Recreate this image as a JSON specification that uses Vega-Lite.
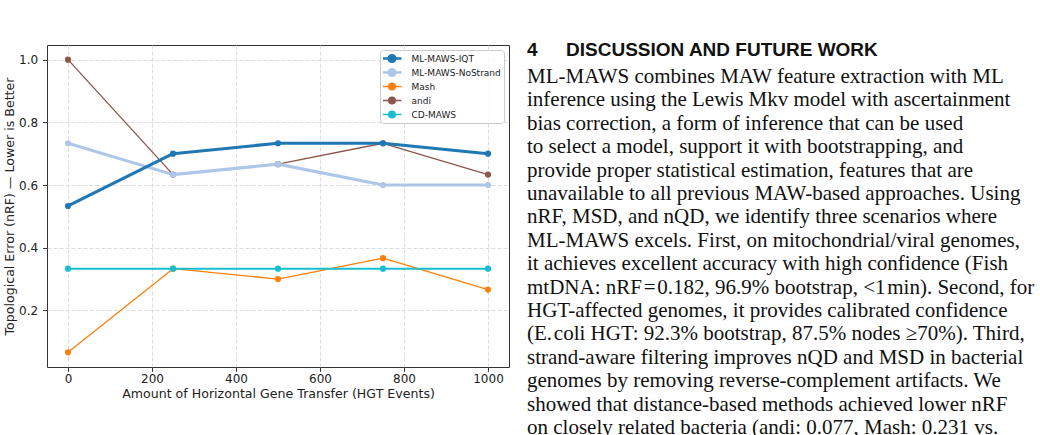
{
  "$schema": "https://vega.github.io/schema/vega-lite/v6.json",
  "autosize": {"type": "none"},
  "width": 462,
  "height": 322,
  "padding": {"left": 47, "top": 45, "right": 531, "bottom": 68},
  "background": "white",
  "datasets": {
    "nrf": [
      {"method": "Mash", "hgt": 0, "nrf": 0.0667},
      {"method": "Mash", "hgt": 250, "nrf": 0.3333},
      {"method": "Mash", "hgt": 500, "nrf": 0.3},
      {"method": "Mash", "hgt": 750, "nrf": 0.3667},
      {"method": "Mash", "hgt": 1000, "nrf": 0.2667},
      {"method": "andi", "hgt": 0, "nrf": 1.0},
      {"method": "andi", "hgt": 250, "nrf": 0.6333},
      {"method": "andi", "hgt": 500, "nrf": 0.6667},
      {"method": "andi", "hgt": 750, "nrf": 0.7333},
      {"method": "andi", "hgt": 1000, "nrf": 0.6333},
      {"method": "CD-MAWS", "hgt": 0, "nrf": 0.3333},
      {"method": "CD-MAWS", "hgt": 250, "nrf": 0.3333},
      {"method": "CD-MAWS", "hgt": 500, "nrf": 0.3333},
      {"method": "CD-MAWS", "hgt": 750, "nrf": 0.3333},
      {"method": "CD-MAWS", "hgt": 1000, "nrf": 0.3333},
      {"method": "ML-MAWS-NoStrand", "hgt": 0, "nrf": 0.7333},
      {"method": "ML-MAWS-NoStrand", "hgt": 250, "nrf": 0.6333},
      {"method": "ML-MAWS-NoStrand", "hgt": 500, "nrf": 0.6667},
      {"method": "ML-MAWS-NoStrand", "hgt": 750, "nrf": 0.6},
      {"method": "ML-MAWS-NoStrand", "hgt": 1000, "nrf": 0.6},
      {"method": "ML-MAWS-IQT", "hgt": 0, "nrf": 0.5333},
      {"method": "ML-MAWS-IQT", "hgt": 250, "nrf": 0.7},
      {"method": "ML-MAWS-IQT", "hgt": 500, "nrf": 0.7333},
      {"method": "ML-MAWS-IQT", "hgt": 750, "nrf": 0.7333},
      {"method": "ML-MAWS-IQT", "hgt": 1000, "nrf": 0.7}
    ],
    "heading": [
      {"line": 0, "text": "4\u2003\u2002DISCUSSION AND FUTURE WORK"}
    ],
    "body": [
      {"line": 1, "text": "ML-MAWS combines MAW feature extraction with ML"},
      {"line": 2, "text": "inference using the Lewis Mkv model with ascertainment"},
      {"line": 3, "text": "bias correction, a form of inference that can be used"},
      {"line": 4, "text": "to select a model, support it with bootstrapping, and"},
      {"line": 5, "text": "provide proper statistical estimation, features that are"},
      {"line": 6, "text": "unavailable to all previous MAW-based approaches. Using"},
      {"line": 7, "text": "nRF, MSD, and nQD, we identify three scenarios where"},
      {"line": 8, "text": "ML-MAWS excels. First, on mitochondrial/viral genomes,"},
      {"line": 9, "text": "it achieves excellent accuracy with high confidence (Fish"},
      {"line": 10, "text": "mtDNA: nRF\u200a=\u200a0.182, 96.9% bootstrap, <1\u200amin). Second, for"},
      {"line": 11, "text": "HGT-affected genomes, it provides calibrated confidence"},
      {"line": 12, "text": "(E.\u200acoli HGT: 92.3% bootstrap, 87.5% nodes \u226570%). Third,"},
      {"line": 13, "text": "strand-aware filtering improves nQD and MSD in bacterial"},
      {"line": 14, "text": "genomes by removing reverse-complement artifacts. We"},
      {"line": 15, "text": "showed that distance-based methods achieved lower nRF"},
      {"line": 16, "text": "on closely related bacteria (andi: 0.077, Mash: 0.231 vs."}
    ]
  },
  "layer": [
    {
      "data": {"name": "nrf"},
      "encoding": {
        "x": {
          "field": "hgt",
          "type": "quantitative",
          "scale": {"domain": [-50, 1050], "nice": false, "zero": false},
          "axis": {
            "values": [0, 200, 400, 600, 800, 1000],
            "format": "d",
            "title": "Amount of Horizontal Gene Transfer (HGT Events)",
            "labelPadding": 2,
            "titlePadding": 3
          }
        },
        "y": {
          "field": "nrf",
          "type": "quantitative",
          "scale": {"domain": [0.0197, 1.0467], "nice": false, "zero": false},
          "axis": {
            "values": [0.2, 0.4, 0.6, 0.8, 1.0],
            "format": ".1f",
            "title": "Topological Error (nRF) \u2014 Lower is Better",
            "labelPadding": 5,
            "titlePadding": 2
          }
        },
        "color": {
          "field": "method",
          "type": "nominal",
          "scale": {
            "domain": ["ML-MAWS-IQT", "ML-MAWS-NoStrand", "Mash", "andi", "CD-MAWS"],
            "range": ["#1f77b4", "#aec7e8", "#ff7f0e", "#8c564b", "#17becf"]
          },
          "legend": {
            "title": null,
            "orient": "top-right",
            "offset": 5,
            "padding": 3,
            "fillColor": "rgba(255,255,255,0.85)",
            "strokeColor": "#cccccc",
            "cornerRadius": 3,
            "labelFont": "DejaVu Sans",
            "labelFontSize": 9,
            "labelColor": "#222222",
            "labelOffset": 15,
            "rowPadding": 3,
            "clipHeight": 11,
            "symbolOffset": 4.5,
            "symbolType": "M-1.9,0H1.9M-0.66,0A0.66,0.66,0,1,1,0.66,0A0.66,0.66,0,1,1,-0.66,0Z",
            "symbolSize": 100,
            "encode": {
              "symbols": {
                "update": {
                  "fill": {"scale": "color", "field": "value"},
                  "stroke": {"scale": "color", "field": "value"},
                  "strokeWidth": {"signal": "indexof(['ML-MAWS-IQT', 'ML-MAWS-NoStrand'], datum.value) >= 0 ? 2.6 : 1.3"},
                  "opacity": {"value": 1}
                }
              }
            }
          }
        }
      },
      "layer": [
        {
          "transform": [{"filter": {"field": "method", "oneOf": ["Mash", "andi"]}}],
          "mark": {"type": "line", "strokeWidth": 1.3, "strokeJoin": "round"}
        },
        {
          "transform": [{"filter": {"field": "method", "equal": "CD-MAWS"}}],
          "mark": {"type": "line", "strokeWidth": 2, "strokeJoin": "round"}
        },
        {
          "transform": [{"filter": {"field": "method", "oneOf": ["ML-MAWS-NoStrand", "ML-MAWS-IQT"]}}],
          "mark": {"type": "line", "strokeWidth": 3.1, "strokeJoin": "round"}
        },
        {
          "mark": {"type": "circle", "size": 38, "opacity": 1}
        }
      ]
    },
    {
      "data": {"name": "heading"},
      "mark": {
        "type": "text",
        "font": "Liberation Sans",
        "fontWeight": "bold",
        "fontSize": 19,
        "align": "left",
        "baseline": "middle",
        "dy": -3.6,
        "color": "#111111"
      },
      "encoding": {
        "x": {"datum": 0, "type": "quantitative", "scale": {"domain": [-480, -18], "nice": false, "zero": false}, "axis": null},
        "y": {"field": "line", "type": "quantitative", "scale": {"domain": [-0.3675, 13.393], "reverse": true, "nice": false, "zero": false}, "axis": null},
        "text": {"field": "text"}
      }
    },
    {
      "data": {"name": "body"},
      "mark": {
        "type": "text",
        "font": "Liberation Serif",
        "fontSize": 21,
        "align": "left",
        "baseline": "middle",
        "color": "#111111"
      },
      "encoding": {
        "x": {"datum": 0, "type": "quantitative", "scale": {"domain": [-480, -18], "nice": false, "zero": false}, "axis": null},
        "y": {"field": "line", "type": "quantitative", "scale": {"domain": [-0.3675, 13.393], "reverse": true, "nice": false, "zero": false}, "axis": null},
        "text": {"field": "text"}
      }
    }
  ],
  "resolve": {"scale": {"x": "independent", "y": "independent"}},
  "config": {
    "font": "DejaVu Sans",
    "view": {"stroke": "#333333", "strokeWidth": 1},
    "axis": {
      "domain": false,
      "grid": true,
      "gridColor": "#d4d4d4",
      "gridDash": [4, 2],
      "gridWidth": 0.8,
      "ticks": true,
      "tickColor": "#333333",
      "tickSize": 4.4,
      "tickWidth": 1,
      "labelFont": "DejaVu Sans",
      "labelFontSize": 12,
      "labelColor": "#222222",
      "titleFont": "DejaVu Sans",
      "titleFontSize": 12.6,
      "titleFontWeight": "normal",
      "titleColor": "#222222"
    }
  }
}
